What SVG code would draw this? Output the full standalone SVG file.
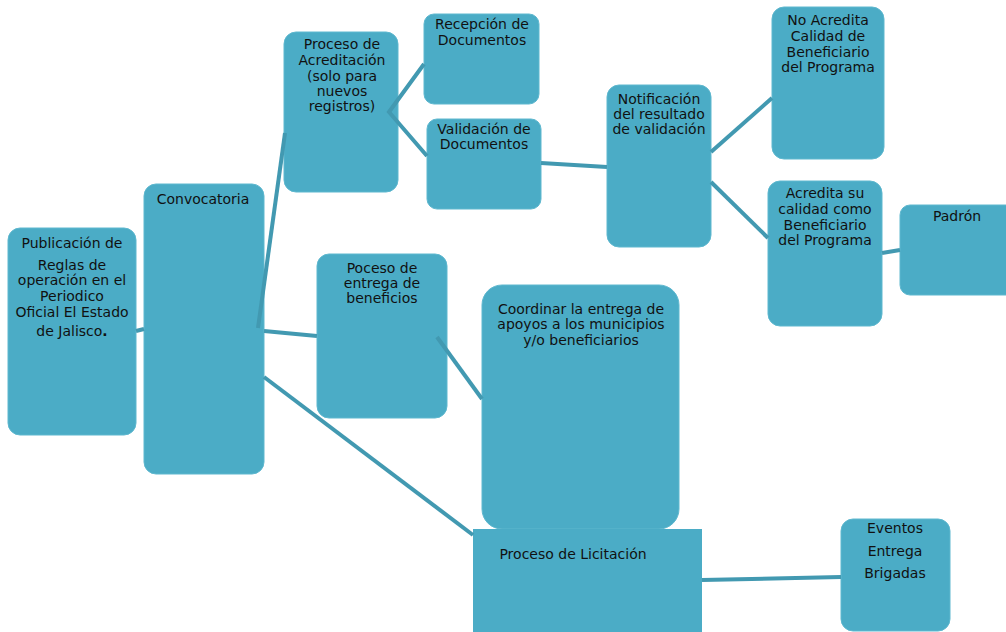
<svg xmlns="http://www.w3.org/2000/svg" width="1006" height="632" viewBox="0 0 1006 632">
<style>
.n{fill:#4BACC6;stroke:#5fb8cf;stroke-width:1}
.t{font-family:"DejaVu Sans",Verdana,sans-serif;font-size:14px;fill:#111;text-anchor:middle}
.c{stroke:#4299b1;stroke-width:4;fill:none;stroke-linecap:butt}
</style>
<rect width="1006" height="632" fill="#fff"/>
<g id="publicacion">
<rect class="n" x="8" y="228" width="128" height="207" rx="12"/>
<text class="t" x="72" y="248">Publicación de</text>
<text class="t" x="72" y="270">Reglas de</text>
<text class="t" x="72" y="285">operación en el</text>
<text class="t" x="72" y="301">Periodico</text>
<text class="t" x="72" y="317">Oficial El Estado</text>
<text class="t" x="72" y="336">de Jalisco<tspan font-weight="bold">.</tspan></text>
</g>
<g id="convocatoria">
<rect class="n" x="144" y="184" width="120" height="290" rx="12"/>
<text class="t" x="203" y="204">Convocatoria</text>
</g>
<g id="acreditacion">
<rect class="n" x="284" y="32" width="114" height="160" rx="12"/>
<text class="t" x="342" y="49">Proceso de</text>
<text class="t" x="342" y="65">Acreditación</text>
<text class="t" x="342" y="81">(solo para</text>
<text class="t" x="342" y="96">nuevos</text>
<text class="t" x="342" y="111">registros)</text>
</g>
<g id="recepcion">
<rect class="n" x="424" y="14" width="115" height="90" rx="10"/>
<text class="t" x="482" y="29">Recepción de</text>
<text class="t" x="482" y="45">Documentos</text>
</g>
<g id="validacion">
<rect class="n" x="427" y="119" width="114" height="90" rx="10"/>
<text class="t" x="484" y="134">Validación de</text>
<text class="t" x="484" y="149">Documentos</text>
</g>
<g id="notificacion">
<rect class="n" x="607" y="85" width="104" height="162" rx="12"/>
<text class="t" x="659" y="104">Notificación</text>
<text class="t" x="659" y="119">del resultado</text>
<text class="t" x="659" y="134">de validación</text>
</g>
<g id="noacredita">
<rect class="n" x="772" y="7" width="112" height="152" rx="12"/>
<text class="t" x="828" y="25">No Acredita</text>
<text class="t" x="828" y="41">Calidad de</text>
<text class="t" x="828" y="57">Beneficiario</text>
<text class="t" x="828" y="72">del Programa</text>
</g>
<g id="acredita">
<rect class="n" x="768" y="181" width="114" height="145" rx="12"/>
<text class="t" x="825" y="198">Acredita su</text>
<text class="t" x="825" y="214">calidad como</text>
<text class="t" x="825" y="230">Beneficiario</text>
<text class="t" x="825" y="245">del Programa</text>
</g>
<g id="padron">
<rect class="n" x="900" y="205" width="120" height="90" rx="10"/>
<text class="t" x="957" y="221">Padrón</text>
</g>
<g id="entrega">
<rect class="n" x="317" y="254" width="130" height="164" rx="12"/>
<text class="t" x="382" y="273">Poceso de</text>
<text class="t" x="382" y="288">entrega de</text>
<text class="t" x="382" y="303">beneficios</text>
</g>
<g id="coordinar">
<rect class="n" x="482" y="285" width="197" height="244" rx="20"/>
<text class="t" x="581" y="314">Coordinar la entrega de</text>
<text class="t" x="581" y="329">apoyos a los municipios</text>
<text class="t" x="581" y="345">y/o beneficiarios</text>
</g>
<g id="licitacion">
<rect x="473" y="529" width="229" height="110" fill="#4BACC6"/>
<text class="t" x="573" y="559">Proceso de Licitación</text>
</g>
<g id="eventos">
<rect class="n" x="841" y="519" width="109" height="112" rx="12"/>
<text class="t" x="895" y="533">Eventos</text>
<text class="t" x="895" y="556">Entrega</text>
<text class="t" x="895" y="578">Brigadas</text>
</g>
<g id="connectors">
<line class="c" x1="136" y1="331" x2="144" y2="329"/>
<line class="c" x1="258" y1="328" x2="285" y2="133"/>
<line class="c" x1="264" y1="331" x2="317" y2="336"/>
<line class="c" x1="264" y1="377" x2="473" y2="535"/>
<polyline class="c" points="424,64 389,112 427,156"/>
<line class="c" x1="541" y1="163" x2="607" y2="167"/>
<line class="c" x1="711" y1="152" x2="772" y2="98"/>
<line class="c" x1="711" y1="182" x2="768" y2="238"/>
<line class="c" x1="882" y1="253" x2="900" y2="250"/>
<line class="c" x1="437" y1="337" x2="482" y2="399"/>
<line class="c" x1="702" y1="580" x2="841" y2="577"/>
</g>
</svg>
